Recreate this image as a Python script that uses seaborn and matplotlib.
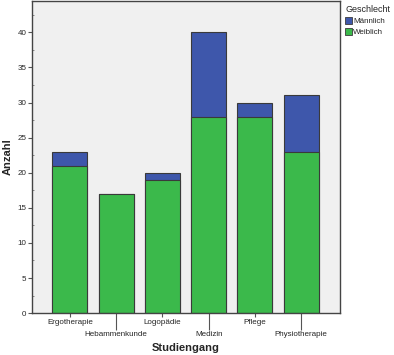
import numpy as np
import pandas as pd
import matplotlib
matplotlib.use("Agg")
import matplotlib.pyplot as plt
import seaborn as sns
from matplotlib.patches import Patch

studiengang = ["Ergotherapie", "Hebammenkunde", "Logopädie", "Medizin", "Pflege", "Physiotherapie"]
weiblich = [21, 17, 19, 28, 28, 23]
maennlich = [2, 0, 1, 12, 2, 8]

blue = "#3e57ab"
green = "#3bb94b"
edge = "#3a3a3a"

df = pd.DataFrame({"Studiengang": studiengang, "Weiblich": weiblich, "Männlich": maennlich})
df["Gesamt"] = df["Weiblich"] + df["Männlich"]

sns.set_style("white")
plt.rcParams["font.family"] = ["Liberation Sans", "DejaVu Sans"]

fig = plt.figure(figsize=(3.94, 3.55), dpi=100)
ax = fig.add_axes([0.081, 0.118, 0.782, 0.88])
ax.set_facecolor("#f0f0f0")

# stacked: total (blue) underneath, weiblich (green) on top
sns.barplot(data=df, x="Studiengang", y="Gesamt", color=blue, width=0.76,
            edgecolor=edge, linewidth=0.8, saturation=1, ax=ax)
sns.barplot(data=df, x="Studiengang", y="Weiblich", color=green, width=0.76,
            edgecolor=edge, linewidth=0.8, saturation=1, ax=ax)

ax.set_xlim(-0.82, 5.84)
ax.set_ylim(0, 44.5)
ax.set_yticks(np.arange(0, 41, 5))
ax.set_yticks(np.arange(2.5, 44, 5), minor=True)
ax.tick_params(axis="y", which="major", direction="out", length=3, width=0.8,
               color="#555555", labelsize=5.8, pad=1, left=True)
ax.tick_params(axis="y", which="minor", direction="in", length=1.5, width=0.6,
               color="#777777", left=True)

# alternating x labels: even on major ticks, odd on longer minor ticks
ax.set_xticks([0, 2, 4], [studiengang[i] for i in [0, 2, 4]])
ax.set_xticks([1, 3, 5], [studiengang[i] for i in [1, 3, 5]], minor=True)
ax.tick_params(axis="x", which="major", direction="out", length=3, width=0.8,
               color="#555555", labelsize=5.8, pad=1.5, bottom=True)
ax.tick_params(axis="x", which="minor", direction="out", length=12.5, width=0.8,
               color="#555555", labelsize=5.8, pad=0.5, bottom=True)

ax.set_xlabel("Studiengang", fontsize=8, fontweight="bold")
ax.set_ylabel("Anzahl", fontsize=8, fontweight="bold")
ax.xaxis.set_label_coords(0.5, -0.095)
ax.yaxis.set_label_coords(-0.062, 0.5)

for s in ax.spines.values():
    s.set_color("#444444")
    s.set_linewidth(1.0)

handles = [Patch(facecolor=blue, edgecolor=edge, linewidth=0.6, label="Männlich"),
           Patch(facecolor=green, edgecolor=edge, linewidth=0.6, label="Weiblich")]
fig.legend(handles=handles, title="Geschlecht", loc="upper left",
           bbox_to_anchor=(0.868, 0.995), frameon=False, fontsize=5.8,
           title_fontsize=6.5, handlelength=0.9, handleheight=1.0,
           handletextpad=0.1, labelspacing=0.35, borderpad=0.2,
           borderaxespad=0.2)
fig.legends[0]._legend_box.align = "left"

fig.savefig("out.png", dpi=100)
